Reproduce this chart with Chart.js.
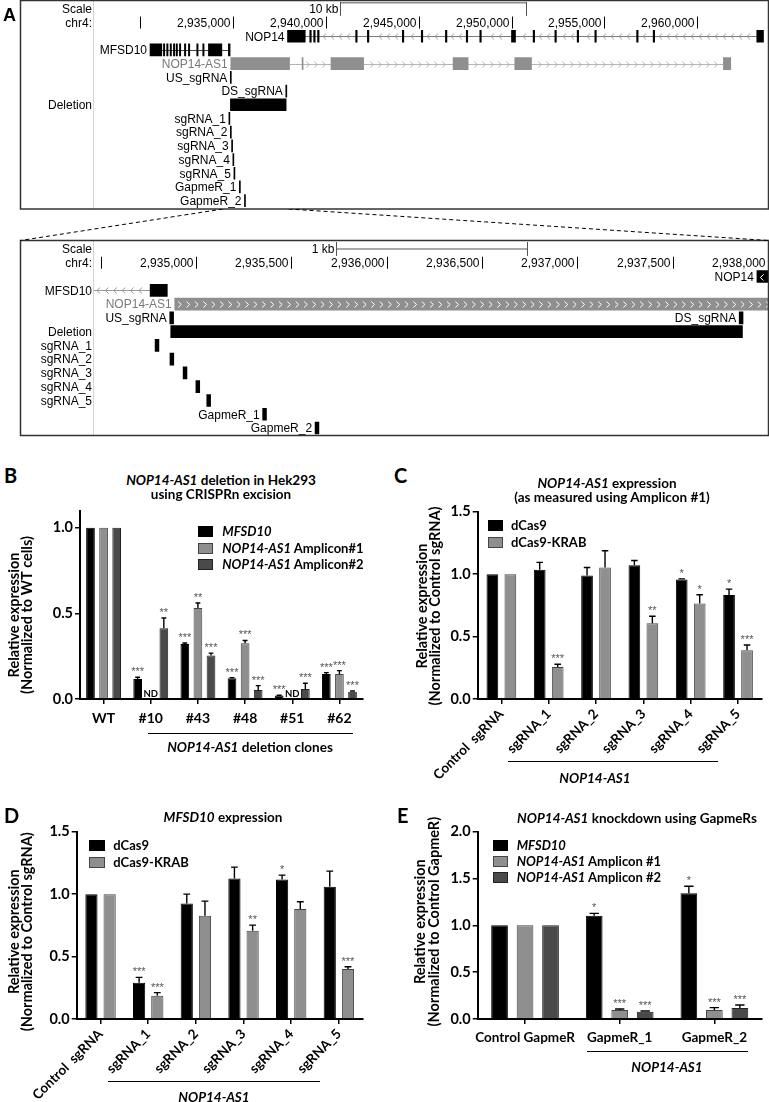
<!DOCTYPE html>
<html><head><meta charset="utf-8">
<script src="https://cdn.jsdelivr.net/npm/chart.js@4.4.1/dist/chart.umd.min.js"></script>
<style>
html,body{margin:0;padding:0;background:#fff;}
body{width:769px;height:1102px;position:relative;overflow:hidden;font-family:Lato,"Open Sans",sans-serif;}
.cw{position:absolute;}
.t{position:absolute;white-space:nowrap;text-align:center;font-weight:700;color:#000;}
.letter{position:absolute;font-weight:700;font-size:20px;line-height:20px;color:#000;}
.ul{position:absolute;height:0;border-top:1.3px solid #000;}
.sw{position:absolute;box-sizing:border-box;border:1px solid #333;}
</style></head><body>
<div class="cw" style="left:0;top:0;width:769px;height:210px"><canvas id="aTop"></canvas></div>
<div class="cw" style="left:0;top:209px;width:769px;height:228px"><canvas id="aZoom"></canvas></div>
<div class="cw" style="left:0;top:500px;width:369px;height:230px"><canvas id="pB"></canvas></div>
<div class="cw" style="left:385px;top:500px;width:384px;height:280px"><canvas id="pC"></canvas></div>
<div class="cw" style="left:0;top:820px;width:369px;height:282px"><canvas id="pD"></canvas></div>
<div class="cw" style="left:385px;top:805px;width:384px;height:255px"><canvas id="pE"></canvas></div>
<script>
// ================= DATA =================
// Panel A: UCSC-style browser view, chr4 coordinates
const topWindow = [2927500, 2963800];
const zoomWindow = [2934463, 2938000];
const topRulerTicks = [2930000, 2935000, 2940000, 2945000, 2950000, 2955000, 2960000];
const zoomRulerTicks = [2934500, 2935000, 2935500, 2936000, 2936500, 2937000, 2937500, 2938000];
const topScaleBar = [2940750, 2950750];   // 10 kb
const zoomScaleBar = [2935737, 2936737];  // 1 kb
const nop14Exons = [[2937942,2938896],[2939140,2939220],[2939350,2939430],[2939560,2939640],[2941610,2941690],[2942240,2942320],[2944120,2944200],[2945140,2945220],[2946440,2946520],[2947560,2947640],[2948290,2948370],[2949995,2950211],[2951160,2951240],[2952330,2952410],[2953530,2953610],[2954480,2954560],[2956730,2956810],[2957620,2957700],[2963196,2963557]];
const mfsd10Exons = [[2930542,2931175],[2931265,2931335],[2931441,2931511],[2931624,2931694],[2931802,2931872],[2931948,2932018],[2932125,2932195],[2932395,2932465],[2932610,2932680],[2933058,2933128],[2933381,2933451],[2933685,2934407],[2934760,2934850]];
const nop14as1Exons = [[2934889,2938050],[2938725,2938775],[2940280,2942037],[2946854,2947662],[2950173,2951073],[2961401,2961795]];
const usSgRNA = [2934863, 2934883];
const dsSgRNA = [2937849, 2937869];
const deletion = [2934868, 2937866];
const crisprSgRNAs = [[2934786,2934806],[2934864,2934884],[2934933,2934953],[2935000,2935020],[2935057,2935077]];
const gapmers = [[2935350,2935370],[2935625,2935645]];
const topRows = ['Scale','chr4','NOP14','MFSD10','NOP14-AS1','US_sgRNA','DS_sgRNA','Deletion','sgRNA_1','sgRNA_2','sgRNA_3','sgRNA_4','sgRNA_5','GapmeR_1','GapmeR_2'];
const zoomRows = ['Scale','chr4','NOP14','MFSD10','NOP14-AS1','US/DS_sgRNA','Deletion','sgRNA_1','sgRNA_2','sgRNA_3','sgRNA_4','sgRNA_5','GapmeR_1','GapmeR_2'];

// Panel B
const clonesB = ['WT','#10','#43','#48','#51','#62'];
const bMFSD10 = [1.0, 0.117, 0.322, 0.121, 0.020, 0.146];
const bMFSD10Err = [0, 0.010, 0.005, 0.004, 0.002, 0.008];
const bMFSD10Sig = ['', '***', '***', '***', '***', '***'];
const bAmp1 = [1.0, 0, 0.531, 0.326, 0, 0.146];   // ND = not detected
const bAmp1Err = [0, 0, 0.030, 0.016, 0, 0.020];
const bAmp1Sig = ['', 'ND', '**', '***', 'ND', '***'];
const bAmp2 = [1.0, 0.414, 0.254, 0.053, 0.059, 0.043];
const bAmp2Err = [0, 0.059, 0.014, 0.025, 0.033, 0.004];
const bAmp2Sig = ['', '**', '***', '***', '***', '***'];
const yTicksB = [0, 0.5, 1.0];

// Panels C and D
const sgLabels = ['Control  sgRNA','sgRNA_1','sgRNA_2','sgRNA_3','sgRNA_4','sgRNA_5'];
const cDCas9 = [1.0, 1.035, 0.989, 1.072, 0.957, 0.832];
const cDCas9Err = [0, 0.059, 0.064, 0.037, 0.005, 0.048];
const cDCas9Sig = ['', '', '', '', '*', '*'];
const cKRAB = [1.0, 0.257, 1.053, 0.607, 0.765, 0.390];
const cKRABErr = [0, 0.021, 0.134, 0.056, 0.070, 0.043];
const cKRABSig = ['', '***', '', '**', '*', '***'];
const dDCas9 = [1.0, 0.291, 0.925, 1.125, 1.117, 1.059];
const dDCas9Err = [0, 0.042, 0.075, 0.091, 0.035, 0.125];
const dDCas9Sig = ['', '***', '', '', '*', ''];
const dKRAB = [1.0, 0.187, 0.827, 0.707, 0.880, 0.400];
const dKRABErr = [0, 0.024, 0.117, 0.045, 0.059, 0.019];
const dKRABSig = ['', '***', '', '**', '', '***'];
const yTicksCD = [0, 0.5, 1.0, 1.5];

// Panel E
const gapLabels = ['Control GapmeR','GapmeR_1','GapmeR_2'];
const eMFSD10 = [1.0, 1.103, 1.344];
const eMFSD10Err = [0, 0.025, 0.074];
const eMFSD10Sig = ['', '*', '*'];
const eAmp1 = [1.0, 0.096, 0.096];
const eAmp1Err = [0, 0.010, 0.025];
const eAmp1Sig = ['', '***', '***'];
const eAmp2 = [1.0, 0.078, 0.117];
const eAmp2Err = [0, 0.007, 0.032];
const eAmp2Sig = ['', '***', '***'];
const yTicksE = [0, 0.5, 1.0, 1.5, 2.0];

// ================= STYLE =================
const BLACK = '#000000', GRAY = '#8f8f8f', DARK = '#4a4a4a';
const UFONT = '12px "Liberation Sans", Arial, sans-serif';

// ================= BROWSER PLUGIN =================
const BROWSER_CFG = {};
let topChart = null;
function chevron(ctx, x, y, dir) {
  ctx.beginPath();
  ctx.moveTo(x - 1.6 * dir, y - 3);
  ctx.lineTo(x + 1.6 * dir, y);
  ctx.lineTo(x - 1.6 * dir, y + 3);
  ctx.stroke();
}
function geneSpan(exons) {
  return [Math.min(...exons.map(e => e[0])), Math.max(...exons.map(e => e[1]))];
}
const browserPlugin = {
  id: 'browser',
  beforeDatasetsDraw(chart) {
    const c = BROWSER_CFG[chart.canvas.id]; if (!c) return;
    const {ctx, chartArea: ca} = chart;
    const xs = chart.scales.x, ys = chart.scales.y;
    const X = v => xs.getPixelForValue(v);
    const Y = r => ys.getPixelForValue(ys.getLabels().indexOf(r));
    ctx.save();
    ctx.strokeStyle = '#d4d4d4'; ctx.lineWidth = 1;
    const lx = Math.round(ca.left) - 0.5;
    ctx.beginPath(); ctx.moveTo(lx, c.box[1]); ctx.lineTo(lx, c.box[1] + c.box[3]); ctx.stroke();
    ctx.beginPath(); ctx.rect(ca.left, 0, ca.width, chart.height); ctx.clip();
    c.genes.forEach(g => {
      const yc = Math.round(Y(g.row)) + 0.5;
      const [s, e] = geneSpan(g.exons);
      const x0 = Math.max(X(s), ca.left), x1 = Math.min(X(e), ca.right);
      ctx.strokeStyle = g.line; ctx.lineWidth = 1;
      ctx.beginPath(); ctx.moveTo(x0, yc); ctx.lineTo(x1, yc); ctx.stroke();
      const ex = g.exons.map(q => [X(q[0]), X(q[1])]);
      ctx.strokeStyle = g.chev;
      for (let px = x0 + 5; px < x1 - 3; px += c.chevStep) {
        if (ex.some(([a, b]) => px > a - 4 && px < b + 4)) continue;
        chevron(ctx, px, yc, g.strand);
      }
    });
    ctx.restore();
  },
  afterDatasetsDraw(chart) {
    const c = BROWSER_CFG[chart.canvas.id]; if (!c) return;
    const {ctx, chartArea: ca} = chart;
    const xs = chart.scales.x, ys = chart.scales.y;
    const X = v => xs.getPixelForValue(v);
    const Y = r => ys.getPixelForValue(ys.getLabels().indexOf(r));
    ctx.save();
    ctx.save();
    ctx.beginPath(); ctx.rect(ca.left, 0, ca.width, chart.height); ctx.clip();
    c.genes.filter(g => g.inner).forEach(g => {
      const yc = Math.round(Y(g.row)) + 0.5;
      ctx.strokeStyle = '#ffffff'; ctx.lineWidth = 1;
      g.exons.forEach(q => {
        const a = Math.max(X(q[0]), ca.left), b = Math.min(X(q[1]), ca.right + 6);
        if (b - a < 9) return;
        for (let px = a + 5; px < b - 3; px += c.chevStep) chevron(ctx, px, yc, g.strand);
      });
    });
    ctx.restore();
    ctx.font = UFONT; ctx.textBaseline = 'middle'; ctx.fillStyle = '#000';
    const yr = Y('chr4');
    ctx.strokeStyle = '#000'; ctx.lineWidth = 1;
    c.ticks.forEach(t => {
      const px = Math.round(X(t)) + 0.5;
      if (px > ca.right + 1) return;
      ctx.beginPath(); ctx.moveTo(px, yr - 6); ctx.lineTo(px, yr + 6); ctx.stroke();
      const lbl = t.toLocaleString('en-US');
      const w = ctx.measureText(lbl).width;
      ctx.textAlign = 'right';
      if (px - 3 - w > ca.left + 4) ctx.fillText(lbl, px - 3, yr + 1);
    });
    const ysb = Y('Scale');
    const a = Math.round(X(c.scaleBar[0])) + 0.5, b = Math.round(X(c.scaleBar[1])) + 0.5;
    ctx.strokeStyle = '#555';
    ctx.beginPath();
    ctx.moveTo(a, ysb + c.scaleDy); ctx.lineTo(b, ysb + c.scaleDy);
    ctx.moveTo(a, ysb - 7); ctx.lineTo(a, ysb + 7);
    ctx.moveTo(b, ysb - 7); ctx.lineTo(b, ysb + 7);
    ctx.stroke();
    ctx.textAlign = 'right';
    ctx.fillText(c.scaleLabel, a - 2, ysb + 1);
    c.labels.forEach(l => {
      const yc = Y(l.row) + 1;
      ctx.fillStyle = l.color || '#000';
      let x = ca.left - 1.5;
      if (l.at !== undefined) {
        const px = X(l.at) - 3;
        if (px - ctx.measureText(l.text).width > ca.left + 2) x = px;
      }
      ctx.fillText(l.text, x, yc);
    });
    ctx.strokeStyle = '#333'; ctx.lineWidth = 1.5;
    ctx.strokeRect(c.box[0], c.box[1], c.box[2], c.box[3]);
    if (c.zoomLines && topChart) {
      const tx = topChart.scales.x;
      const z0 = tx.getPixelForValue(zoomWindow[0]), z1 = tx.getPixelForValue(zoomWindow[1]);
      ctx.strokeStyle = '#000'; ctx.lineWidth = 1; ctx.setLineDash([4, 3]);
      ctx.beginPath();
      ctx.moveTo(z0, 0); ctx.lineTo(c.box[0], c.box[1]);
      ctx.moveTo(z1, 0); ctx.lineTo(c.box[0] + c.box[2], c.box[1]);
      ctx.stroke();
    }
    ctx.restore();
  }
};

function browserChart(id, rows, win, features) {
  return new Chart(document.getElementById(id), {
    type: 'bar',
    data: {
      labels: rows,
      datasets: features.map(f => ({
        data: f.items.map(it => ({y: it[0], x: [it[1], it[2]]})),
        backgroundColor: f.color, borderWidth: 0, barThickness: 12, minBarLength: 1, grouped: false
      }))
    },
    options: {
      indexAxis: 'y', responsive: true, maintainAspectRatio: false, animation: false, events: [],
      layout: {padding: BROWSER_CFG[id].padding},
      plugins: {legend: {display: false}, tooltip: {enabled: false}},
      scales: {
        x: {type: 'linear', min: win[0], max: win[1], display: false},
        y: {type: 'category', display: false, offset: true}
      }
    },
    plugins: [browserPlugin]
  });
}

function featureSet(usRow, dsRow) {
  return [
    {color: BLACK, items: nop14Exons.map(e => ['NOP14', e[0], e[1]])},
    {color: BLACK, items: mfsd10Exons.map(e => ['MFSD10', e[0], e[1]])},
    {color: GRAY, items: nop14as1Exons.map(e => ['NOP14-AS1', e[0], e[1]])},
    {color: BLACK, items: [[usRow, usSgRNA[0], usSgRNA[1]], [dsRow, dsSgRNA[0], dsSgRNA[1]], ['Deletion', deletion[0], deletion[1]]]
      .concat(crisprSgRNAs.map((e, i) => ['sgRNA_' + (i + 1), e[0], e[1]]))
      .concat(gapmers.map((e, i) => ['GapmeR_' + (i + 1), e[0], e[1]]))}
  ];
}

BROWSER_CFG.aTop = {
  padding: {left: 93.5, right: 1, top: 2, bottom: 2.5},
  box: [20.5, 0.5, 748, 208.5],
  chevStep: 8, scaleDy: -6, scaleLabel: '10 kb', scaleBar: topScaleBar, ticks: topRulerTicks,
  genes: [
    {row: 'NOP14', exons: nop14Exons, strand: -1, line: '#7a7a7a', chev: '#a0a0a0'},
    {row: 'MFSD10', exons: mfsd10Exons, strand: -1, line: '#444', chev: '#999'},
    {row: 'NOP14-AS1', exons: nop14as1Exons, strand: 1, line: '#b4b4b4', chev: '#b4b4b4'}
  ],
  labels: [
    {row: 'Scale', text: 'Scale'}, {row: 'chr4', text: 'chr4:'},
    {row: 'NOP14', text: 'NOP14', at: geneSpan(nop14Exons)[0]},
    {row: 'MFSD10', text: 'MFSD10', at: geneSpan(mfsd10Exons)[0]},
    {row: 'NOP14-AS1', text: 'NOP14-AS1', at: geneSpan(nop14as1Exons)[0], color: '#7a7a7a'},
    {row: 'US_sgRNA', text: 'US_sgRNA', at: usSgRNA[0]},
    {row: 'DS_sgRNA', text: 'DS_sgRNA', at: dsSgRNA[0]},
    {row: 'Deletion', text: 'Deletion'}
  ].concat(crisprSgRNAs.map((e, i) => ({row: 'sgRNA_' + (i + 1), text: 'sgRNA_' + (i + 1), at: e[0]})))
   .concat(gapmers.map((e, i) => ({row: 'GapmeR_' + (i + 1), text: 'GapmeR_' + (i + 1), at: e[0]})))
};
BROWSER_CFG.aZoom = {
  padding: {left: 93.5, right: 1, top: 33.1, bottom: 2.1},
  box: [20.5, 31.5, 748, 195],
  chevStep: 8.4, scaleDy: 0, scaleLabel: '1 kb', scaleBar: zoomScaleBar, ticks: zoomRulerTicks, zoomLines: true,
  genes: [
    {row: 'NOP14', exons: nop14Exons, strand: -1, line: '#7a7a7a', chev: '#a0a0a0', inner: true},
    {row: 'MFSD10', exons: mfsd10Exons, strand: -1, line: '#9a9a9a', chev: '#9a9a9a'},
    {row: 'NOP14-AS1', exons: nop14as1Exons, strand: 1, line: '#b4b4b4', chev: '#b4b4b4', inner: true}
  ],
  labels: [
    {row: 'Scale', text: 'Scale'}, {row: 'chr4', text: 'chr4:'},
    {row: 'NOP14', text: 'NOP14', at: geneSpan(nop14Exons)[0]},
    {row: 'MFSD10', text: 'MFSD10', at: geneSpan(mfsd10Exons)[0]},
    {row: 'NOP14-AS1', text: 'NOP14-AS1', at: geneSpan(nop14as1Exons)[0], color: '#7a7a7a'},
    {row: 'US/DS_sgRNA', text: 'US_sgRNA', at: usSgRNA[0]},
    {row: 'US/DS_sgRNA', text: 'DS_sgRNA', at: dsSgRNA[0]},
    {row: 'Deletion', text: 'Deletion'}
  ].concat(crisprSgRNAs.map((e, i) => ({row: 'sgRNA_' + (i + 1), text: 'sgRNA_' + (i + 1)})))
   .concat(gapmers.map((e, i) => ({row: 'GapmeR_' + (i + 1), text: 'GapmeR_' + (i + 1), at: e[0]})))
};

topChart = browserChart('aTop', topRows, topWindow, featureSet('US_sgRNA', 'DS_sgRNA'));
browserChart('aZoom', zoomRows, zoomWindow, featureSet('US/DS_sgRNA', 'US/DS_sgRNA'));

// ================= BAR CHART PLUGINS =================
const BAR_CFG = {};
const errPlugin = {
  id: 'errStars',
  afterDatasetsDraw(chart) {
    const {ctx} = chart; const ys = chart.scales.y;
    ctx.save();
    chart.data.datasets.forEach((ds, di) => {
      const meta = chart.getDatasetMeta(di);
      meta.data.forEach((bar, i) => {
        const v = ds.data[i], e = ds.errors[i], s = ds.stars[i];
        let top = ys.getPixelForValue(v);
        if (e) {
          const ye = ys.getPixelForValue(v + e);
          const hw = bar.width * 0.28;
          ctx.strokeStyle = '#000'; ctx.lineWidth = 1.4;
          ctx.beginPath();
          ctx.moveTo(bar.x, top); ctx.lineTo(bar.x, ye);
          ctx.moveTo(bar.x - hw, ye); ctx.lineTo(bar.x + hw, ye);
          ctx.stroke();
          top = ye;
        }
        ctx.textAlign = 'center'; ctx.textBaseline = 'alphabetic';
        if (s === 'ND') {
          ctx.fillStyle = '#000'; ctx.font = 'bold 9.5px Lato, sans-serif';
          ctx.fillText('ND', bar.x, ys.getPixelForValue(0) - 2);
        } else if (s) {
          ctx.fillStyle = '#555'; ctx.font = '11px "Liberation Sans", Arial, sans-serif';
          ctx.fillText(s, bar.x, top - 2);
        }
      });
    });
    ctx.restore();
  }
};
const yTitlePlugin = {
  id: 'ytitle',
  afterDraw(chart) {
    const c = BAR_CFG[chart.canvas.id]; if (!c) return;
    const {ctx} = chart;
    ctx.save();
    ctx.fillStyle = '#000'; ctx.font = 'bold 14.5px Lato, sans-serif';
    ctx.textAlign = 'center'; ctx.textBaseline = 'middle';
    c.ytitle.forEach((t, k) => {
      ctx.save();
      ctx.translate(c.tx + k * c.lh, c.ty);
      ctx.rotate(-Math.PI / 2);
      ctx.fillText(t, 0, 0);
      ctx.restore();
    });
    ctx.restore();
  }
};

function barChart(id, labels, series, cfg) {
  BAR_CFG[id] = cfg;
  return new Chart(document.getElementById(id), {
    type: 'bar',
    data: {
      labels: labels,
      datasets: series.map(s => ({
        label: s.name, data: s.values, errors: s.errors, stars: s.sig,
        backgroundColor: s.color, borderColor: s.border,
        borderWidth: s.values.map(v => v === 0 ? 0 : 1),
        categoryPercentage: cfg.cat, barPercentage: cfg.bar
      }))
    },
    options: {
      responsive: true, maintainAspectRatio: false, animation: false, events: [],
      layout: {padding: {left: 0, top: cfg.padTop, right: cfg.padRight, bottom: 0}},
      plugins: {legend: {display: false}, tooltip: {enabled: false}},
      scales: {
        x: {
          grid: {display: true, drawOnChartArea: false, offset: false, tickLength: 5, color: '#000', lineWidth: 1.5},
          border: {display: true, color: '#000', width: 2},
          ticks: {color: '#000', font: {family: 'Lato', weight: 'bold', size: cfg.xFont}, padding: cfg.xPad,
                  maxRotation: cfg.rot, minRotation: cfg.rot, autoSkip: false},
          afterFit: s => { s.height = cfg.xH; }
        },
        y: {
          min: 0, max: cfg.yMax,
          grid: {display: true, drawOnChartArea: false, tickLength: 5, color: '#000', lineWidth: 1.5},
          border: {display: true, color: '#000', width: 2},
          ticks: {color: '#000', font: {family: 'Lato', weight: 'bold', size: 14.5}, padding: 2,
                  callback: v => Number(v).toFixed(1)},
          afterBuildTicks: s => { s.ticks = cfg.yTicks.map(v => ({value: v})); },
          afterFit: s => { s.width = cfg.yW; }
        }
      }
    },
    plugins: [errPlugin, yTitlePlugin]
  });
}

const seriesB = [
  {name: '<i>MFSD10</i>', values: bMFSD10, errors: bMFSD10Err, sig: bMFSD10Sig, color: BLACK, border: '#000'},
  {name: '<i>NOP14-AS1</i> Amplicon#1', values: bAmp1, errors: bAmp1Err, sig: bAmp1Sig, color: GRAY, border: '#444'},
  {name: '<i>NOP14-AS1</i> Amplicon#2', values: bAmp2, errors: bAmp2Err, sig: bAmp2Sig, color: DARK, border: '#222'}
];
const seriesC = [
  {name: 'dCas9', values: cDCas9, errors: cDCas9Err, sig: cDCas9Sig, color: BLACK, border: '#000'},
  {name: 'dCas9-KRAB', values: cKRAB, errors: cKRABErr, sig: cKRABSig, color: GRAY, border: '#444'}
];
const seriesD = [
  {name: 'dCas9', values: dDCas9, errors: dDCas9Err, sig: dDCas9Sig, color: BLACK, border: '#000'},
  {name: 'dCas9-KRAB', values: dKRAB, errors: dKRABErr, sig: dKRABSig, color: GRAY, border: '#444'}
];
const seriesE = [
  {name: '<i>MFSD10</i>', values: eMFSD10, errors: eMFSD10Err, sig: eMFSD10Sig, color: BLACK, border: '#000'},
  {name: '<i>NOP14-AS1</i> Amplicon #1', values: eAmp1, errors: eAmp1Err, sig: eAmp1Sig, color: GRAY, border: '#444'},
  {name: '<i>NOP14-AS1</i> Amplicon #2', values: eAmp2, errors: eAmp2Err, sig: eAmp2Sig, color: DARK, border: '#222'}
];

barChart('pB', clonesB, seriesB, {padTop: 10, padRight: 6, yW: 80, xH: 31, yMax: 1.1, yTicks: yTicksB, xPad: 6, rot: 0, xFont: 14,
  cat: 0.833, bar: 0.664, ytitle: ['Relative expression', '(Normalized to WT cells)'], tx: 14.5, ty: 115, lh: 12.5});
barChart('pC', sgLabels, seriesC, {padTop: 11.7, padRight: 7.3, yW: 92.7, xH: 81, yMax: 1.5, yTicks: yTicksCD, xPad: 2, rot: 45, xFont: 13.5,
  cat: 0.76, bar: 0.65, ytitle: ['Relative expression', '(Normalized to Control sgRNA)'], tx: 37.5, ty: 106, lh: 12.5});
barChart('pD', sgLabels, seriesD, {padTop: 11.7, padRight: 6.3, yW: 76.7, xH: 83, yMax: 1.5, yTicks: yTicksCD, xPad: 2, rot: 45, xFont: 13.5,
  cat: 0.764, bar: 0.67, ytitle: ['Relative expression', '(Normalized to Control sgRNA)'], tx: 14.5, ty: 111.7, lh: 12.5});
barChart('pE', gapLabels, seriesE, {padTop: 26.7, padRight: 7.3, yW: 92.7, xH: 41, yMax: 2.0, yTicks: yTicksE, xPad: 6, rot: 0, xFont: 13.5,
  cat: 0.808, bar: 0.655, ytitle: ['Relative expression', '(Normalized to Control GapmeR)'], tx: 35.5, ty: 116.7, lh: 14});

// ================= HTML TEXT =================
function txt(html, cx, cy, size, align) {
  const d = document.createElement('div');
  d.className = 't'; d.innerHTML = html;
  const lh = Math.round(size * 1.3);
  d.style.fontSize = size + 'px'; d.style.lineHeight = lh + 'px';
  d.style.top = (cy - lh / 2) + 'px';
  if (align === 'left') { d.style.left = cx + 'px'; d.style.textAlign = 'left'; }
  else { d.style.left = (cx - 300) + 'px'; d.style.width = '600px'; }
  document.body.appendChild(d);
}
function letter(ch, x, y, fam, size) {
  const d = document.createElement('div');
  d.className = 'letter'; d.textContent = ch;
  d.style.left = x + 'px'; d.style.top = y + 'px';
  if (fam) d.style.fontFamily = fam;
  if (size) { d.style.fontSize = size + 'px'; d.style.lineHeight = size + 'px'; }
  document.body.appendChild(d);
}
function underline(x0, x1, y) {
  const d = document.createElement('div');
  d.className = 'ul';
  d.style.left = x0 + 'px'; d.style.width = (x1 - x0) + 'px'; d.style.top = y + 'px';
  document.body.appendChild(d);
}
function legend(series, sx, sw, centers, tx) {
  series.forEach((s, i) => {
    const q = document.createElement('div');
    q.className = 'sw';
    q.style.left = sx + 'px'; q.style.top = (centers[i] - 5.5) + 'px';
    q.style.width = sw + 'px'; q.style.height = '11px';
    q.style.background = s.color; q.style.borderColor = s.border;
    document.body.appendChild(q);
    txt(s.name, tx, centers[i], 13, 'left');
  });
}

letter('A', 3, 6, '"Liberation Sans", Arial, sans-serif', 18);
letter('B', 4, 465); letter('C', 394, 465); letter('D', 4, 805); letter('E', 397, 805);

txt('<i>NOP14-AS1</i> deletion in Hek293', 221, 480, 13.5);
txt('using CRISPRn excision', 221, 494, 13.5);
txt('<i>NOP14-AS1</i> expression', 607, 483, 13.5);
txt('(as measured using Amplicon #1)', 612, 497, 13.5);
txt('<i>MFSD10</i> expression', 223, 817, 13.5);
txt('<i>NOP14-AS1</i> knockdown using GapmeRs', 637, 818, 13.5);

legend(seriesB, 197.7, 15.7, [531.3, 548, 564.7], 222.3);
legend(seriesC, 487.7, 15.6, [525.5, 542.2], 511);
legend(seriesD, 89.3, 15.7, [845.5, 862.2], 113.3);
legend(seriesE, 493.3, 15, [845.5, 861.3, 877.2], 516.7);

underline(148, 353, 733);
txt('<i>NOP14-AS1</i> deletion clones', 250, 747, 13.5);
underline(508, 718, 761);
txt('<i>NOP14-AS1</i>', 595, 778, 13.5);
underline(108, 320, 1081);
txt('<i>NOP14-AS1</i>', 214, 1097, 13.5);
underline(587, 748, 1051);
txt('<i>NOP14-AS1</i>', 667, 1067, 13.5);
</script>
</body></html>
